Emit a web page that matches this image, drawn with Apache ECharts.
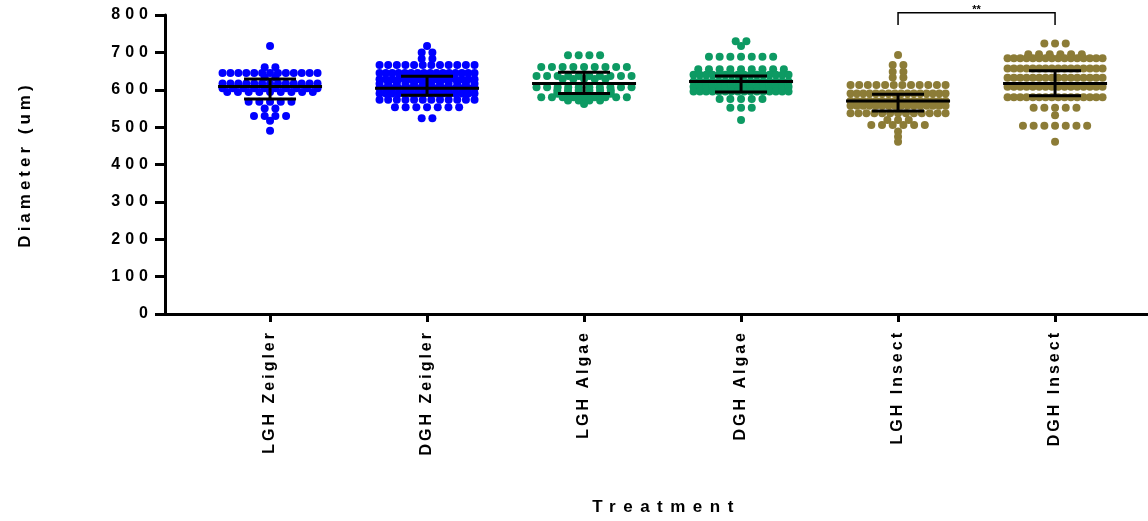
<!DOCTYPE html>
<html>
<head>
<meta charset="utf-8">
<script src="https://cdn.jsdelivr.net/npm/echarts@6/dist/echarts.min.js"></script>
<style>
  html, body { margin: 0; padding: 0; background: #fff; }
  #chart { width: 1148px; height: 521px; }
</style>
</head>
<body>
<div id="chart"></div>
<script type="application/javascript">
const categories = ['LGH Zeigler', 'DGH Zeigler', 'LGH Algae', 'DGH Algae', 'LGH Insect', 'DGH Insect'];
const groupColors = ['#0000ff', '#0000ff', '#0d9a63', '#0d9a63', '#8c7c37', '#8c7c37'];
const yTicks = [0, 100, 200, 300, 400, 500, 600, 700, 800];

// each row: [diameter, number of dots sitting at that level]
const lghZeigler = [[717, 1], [660, 2], [645, 13], [633, 2], [617, 13], [604, 10], [594, 9], [568, 5], [550, 2], [530, 4], [517, 1], [490, 1]];
const dghZeigler = [[717, 1], [700, 2], [683, 2], [666, 12], [645, 16], [628, 16], [616, 12], [604, 16], [590, 16], [573, 12], [553, 7], [524, 2]];
const lghAlgae = [[692, 4], [661, 9], [637, 10], [629, 5], [607, 10], [598, 6], [589, 6], [580, 9], [571, 4], [562, 1]];
const dghAlgae = [[730, 2], [717, 1], [688, 7], [655, 9], [640, 16], [622, 16], [608, 16], [595, 16], [575, 5], [552, 3], [519, 1]];
const lghInsect = [[693, 1], [666, 2], [648, 2], [633, 2], [613, 12], [590, 16], [570, 16], [557, 16], [537, 13], [519, 3], [506, 6], [488, 1], [474, 1], [461, 1]];
const dghInsect = [[724, 3], [695, 6], [684, 16], [657, 16], [632, 16], [608, 16], [580, 16], [552, 5], [532, 1], [504, 7], [461, 1]];
const groups = [lghZeigler, dghZeigler, lghAlgae, dghAlgae, lghInsect, dghInsect];

// [median, lower, upper]
const summary = [[609, 575, 629], [604, 585, 636], [617, 590, 647], [622, 594, 637], [570, 543, 588], [617, 584, 651]];

// significance bracket between groups 5 and 6
const sigBracket = [[5, 6, 806, 773]];
const sigLabel = '**';

const PX_PER_UNIT = 157;   // x axis: one group = 157px
const DOT_STEP = 10.7;     // px between neighbouring dots
const ROW_WIDTH = 95;      // widest a row may get, px

const FONT = "'Liberation Sans', Arial, sans-serif";

// prism exports its text with wide tracking
const tracking = { 'Treatment': '7.5px', 'Diameter (um)': '4px', '**': '0px' };
yTicks.forEach(v => { tracking[String(v)] = '5px'; });
const baseFillText = CanvasRenderingContext2D.prototype.fillText;
CanvasRenderingContext2D.prototype.fillText = function (t, x, y, w) {
  this.letterSpacing = tracking[t] || '3px';
  return w === undefined ? baseFillText.call(this, t, x, y) : baseFillText.call(this, t, x, y, w);
};

function swarm(rows, center) {
  const pts = [];
  rows.forEach(([v, n]) => {
    const step = n > 1 ? Math.min(DOT_STEP, ROW_WIDTH / (n - 1)) : 0;
    for (let i = 0; i < n; i++) {
      pts.push([center + (i - (n - 1) / 2) * step / PX_PER_UNIT, v]);
    }
  });
  return pts;
}

const chart = echarts.init(document.getElementById('chart'));
const ticks = categories.map((c, i) => i + 1);

const dotSeries = groups.map((rows, i) => ({
  type: 'scatter',
  data: swarm(rows, i + 1),
  symbol: 'circle',
  symbolSize: 8,
  itemStyle: { color: groupColors[i], opacity: 1 },
  z: 2
}));

const option = {
  animation: false,
  grid: { left: 165, right: 0, top: 15, bottom: 207 },
  xAxis: {
    type: 'value',
    min: 0.331,
    max: 6.592,
    splitLine: { show: false },
    axisLine: { onZero: false, lineStyle: { color: '#000', width: 3 } },
    axisTick: { customValues: ticks, length: 8, lineStyle: { color: '#000', width: 3 } },
    axisLabel: {
      customValues: ticks,
      formatter: v => categories[Math.round(v) - 1],
      rotate: 90,
      margin: 16,
      fontSize: 16,
      fontWeight: 'bold',
      fontFamily: FONT,
      color: '#000'
    },
    name: 'Treatment',
    nameLocation: 'middle',
    nameGap: 185,
    nameTextStyle: { fontSize: 17, fontWeight: 'bold', fontFamily: FONT, color: '#000', padding: [0, 0, 0, 20] }
  },
  yAxis: {
    type: 'value',
    min: 0,
    max: 800,
    interval: 100,
    splitLine: { show: false },
    axisLine: { show: true, onZero: false, lineStyle: { color: '#000', width: 3 } },
    axisTick: { show: true, length: 10, lineStyle: { color: '#000', width: 3 } },
    axisLabel: { margin: 12, fontSize: 16, fontWeight: 'bold', fontFamily: FONT, color: '#000' },
    name: 'Diameter (um)',
    nameLocation: 'middle',
    nameGap: 131,
    nameTextStyle: { fontSize: 17, fontWeight: 'bold', fontFamily: FONT, color: '#000' }
  },
  series: [
    ...dotSeries,
    {
      type: 'custom',
      clip: false,
      z: 5,
      data: summary.map((s, i) => [i + 1, ...s]),
      renderItem(params, api) {
        const m = api.coord([api.value(0), api.value(1)]);
        const lo = api.coord([api.value(0), api.value(2)]);
        const hi = api.coord([api.value(0), api.value(3)]);
        const style = { stroke: '#000', lineWidth: 3 };
        return {
          type: 'group',
          children: [
            { type: 'line', shape: { x1: m[0] - 52, y1: m[1], x2: m[0] + 52, y2: m[1] }, style },
            { type: 'line', shape: { x1: m[0], y1: lo[1], x2: m[0], y2: hi[1] }, style },
            { type: 'line', shape: { x1: m[0] - 26, y1: lo[1], x2: m[0] + 26, y2: lo[1] }, style },
            { type: 'line', shape: { x1: m[0] - 26, y1: hi[1], x2: m[0] + 26, y2: hi[1] }, style }
          ]
        };
      }
    },
    {
      type: 'custom',
      clip: false,
      z: 5,
      data: sigBracket,
      renderItem(params, api) {
        const a = api.coord([api.value(0), api.value(2)]);
        const b = api.coord([api.value(1), api.value(2)]);
        const foot = api.coord([api.value(0), api.value(3)]);
        return {
          type: 'group',
          children: [
            {
              type: 'polyline',
              shape: { points: [[a[0], foot[1]], a, b, [b[0], foot[1]]] },
              style: { stroke: '#000', lineWidth: 1.5, fill: null }
            },
            {
              type: 'text',
              style: {
                text: sigLabel, x: (a[0] + b[0]) / 2, y: a[1] - 3,
                align: 'center', verticalAlign: 'middle',
                fontSize: 11, fontWeight: 'bold', fontFamily: FONT, fill: '#000'
              }
            }
          ]
        };
      }
    }
  ]
};

chart.setOption(option);
</script>
</body>
</html>
